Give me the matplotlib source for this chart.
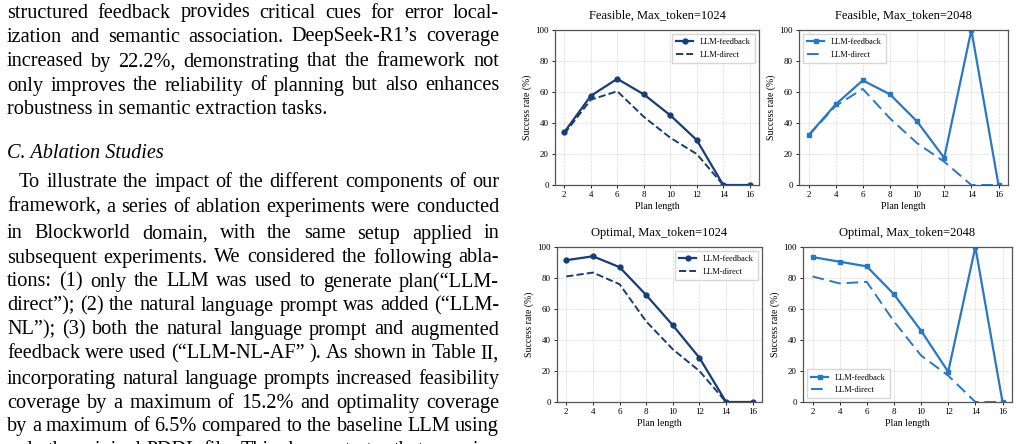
import matplotlib
matplotlib.use("Agg")
import matplotlib.pyplot as plt
from matplotlib.font_manager import FontProperties

plt.rcParams['font.family'] = ['Liberation Serif', 'DejaVu Serif']

# ---- data ----
plan_len = [2, 4, 6, 8, 10, 12, 14, 16]

feas_1024_fb = [34, 57.5, 68.5, 58.5, 45, 29, 0, 0]
feas_1024_direct = [33, 55, 60.5, 44, 30.5, 20, 0, 0]
feas_2048_fb = [32, 52, 67.5, 58.5, 41, 17.5, 100, 0]
feas_2048_direct = [32, 51, 62, 43, 27, 15, 0, 0]
opt_1024_fb = [91.5, 94, 87, 69, 49.5, 28.5, 0, 0]
opt_1024_direct = [81, 83.5, 76, 52, 34, 20, 0, 0]
opt_2048_fb = [93.5, 90.5, 87.5, 69.5, 46, 19.5, 100, 0]
opt_2048_direct = [81, 76.5, 77.5, 52, 30, 17, 0, 0]

titles = ["Feasible, Max_token=1024", "Feasible, Max_token=2048",
          "Optimal, Max_token=1024", "Optimal, Max_token=2048"]

body_lines = [
    "structured feedback provides critical cues for error local-",
    "ization and semantic association. DeepSeek-R1\u2019s coverage",
    "increased by 22.2%, demonstrating that the framework not",
    "only improves the reliability of planning but also enhances",
    "robustness in semantic extraction tasks.",
]
body_lines2 = [
    "To illustrate the impact of the different components of our",
    "framework, a series of ablation experiments were conducted",
    "in Blockworld domain, with the same setup applied in",
    "subsequent experiments. We considered the following abla-",
    "tions: (1) only the LLM was used to generate plan(\u201cLLM-",
    "direct\u201d); (2) the natural language prompt was added (\u201cLLM-",
    "NL\u201d); (3) both the natural language prompt and augmented",
    "feedback were used (\u201cLLM-NL-AF\u201d ). As shown in Table II,",
    "incorporating natural language prompts increased feasibility",
    "coverage by a maximum of 15.2% and optimality coverage",
    "by a maximum of 6.5% compared to the baseline LLM using",
    "only the original PDDL file. This demonstrates that ensuring",
]

W, H = 1019, 444
fig = plt.figure(figsize=(W / 100, H / 100), dpi=100)
renderer = fig.canvas.get_renderer()

navy = '#173c78'
blue = '#2a77c2'


def justify(line, y, x0, x1, fp, last=False):
    words = line.split(' ')
    if last or len(words) == 1:
        fig.text(x0 / W, 1 - y / H, line, fontproperties=fp, va='center', ha='left')
        return
    widths = [renderer.get_text_width_height_descent(w, fp, ismath=False)[0] for w in words]
    gap = (x1 - x0 - sum(widths)) / (len(words) - 1)
    x = x0
    for w, wd in zip(words, widths):
        fig.text(x / W, 1 - y / H, w, fontproperties=fp, va='center', ha='left')
        x += wd + gap


fp = FontProperties(family='Liberation Serif', size=14.6)
left, right = 7, 499
ys = [13, 37, 62, 86, 110]
for i, (ln, y) in enumerate(zip(body_lines, ys)):
    justify(ln, y, left, right, fp, last=(i == len(body_lines) - 1))

fig.text(left / W, 1 - 153 / H, "C. Ablation Studies",
         fontproperties=FontProperties(family='Liberation Serif', size=14.6, style='italic'),
         va='center', ha='left')

ys2 = [182, 207, 234, 258, 282, 306, 330, 354, 379, 403, 426, 450]
for i, (ln, y) in enumerate(zip(body_lines2, ys2)):
    x0 = left + 12 if i == 0 else left
    justify(ln, y, x0, right, fp)

# ---- charts ----
boxes = [(555, 30, 759, 185), (799, 30, 1008, 185),
         (557, 247, 762, 402), (803, 247, 1012, 402)]
series = [(feas_1024_fb, feas_1024_direct), (feas_2048_fb, feas_2048_direct),
          (opt_1024_fb, opt_1024_direct), (opt_2048_fb, opt_2048_direct)]
legend_loc = ['upper right', 'upper left', 'upper right', 'lower left']

for k in range(4):
    x0, y0, x1, y1 = boxes[k]
    ax = fig.add_axes([x0 / W, 1 - y1 / H, (x1 - x0) / W, (y1 - y0) / H])
    fb, direct = series[k]
    if k % 2 == 0:
        c, mk, ls = navy, 'o', '--'
    else:
        c, mk, ls = blue, 's', (0, (6, 3))
    ax.plot(plan_len, fb, color=c, marker=mk, markersize=3.5, linewidth=1.6, label='LLM-feedback')
    ax.plot(plan_len, direct, color=c, linestyle=ls, linewidth=1.4, label='LLM-direct')
    ax.set_ylim(0, 100)
    ax.set_xticks(plan_len)
    ax.set_yticks([0, 20, 40, 60, 80, 100])
    ax.tick_params(labelsize=6.5, length=2.5, width=0.6, pad=2)
    ax.grid(True, linestyle='--', linewidth=0.5, color='#d0d0d0', alpha=0.8)
    for s in ax.spines.values():
        s.set_color('#555555')
        s.set_linewidth(0.9)
    ax.set_xlabel('Plan length', fontsize=7, labelpad=2)
    ax.set_ylabel('Success rate (%)', fontsize=7, labelpad=2)
    ax.set_title(titles[k], fontsize=9, pad=8)
    ax.legend(loc=legend_loc[k], fontsize=6, frameon=True, fancybox=False,
              edgecolor='#cccccc', handlelength=2.0, handletextpad=0.8, borderpad=0.5)

fig.savefig('out.png', dpi=100)
